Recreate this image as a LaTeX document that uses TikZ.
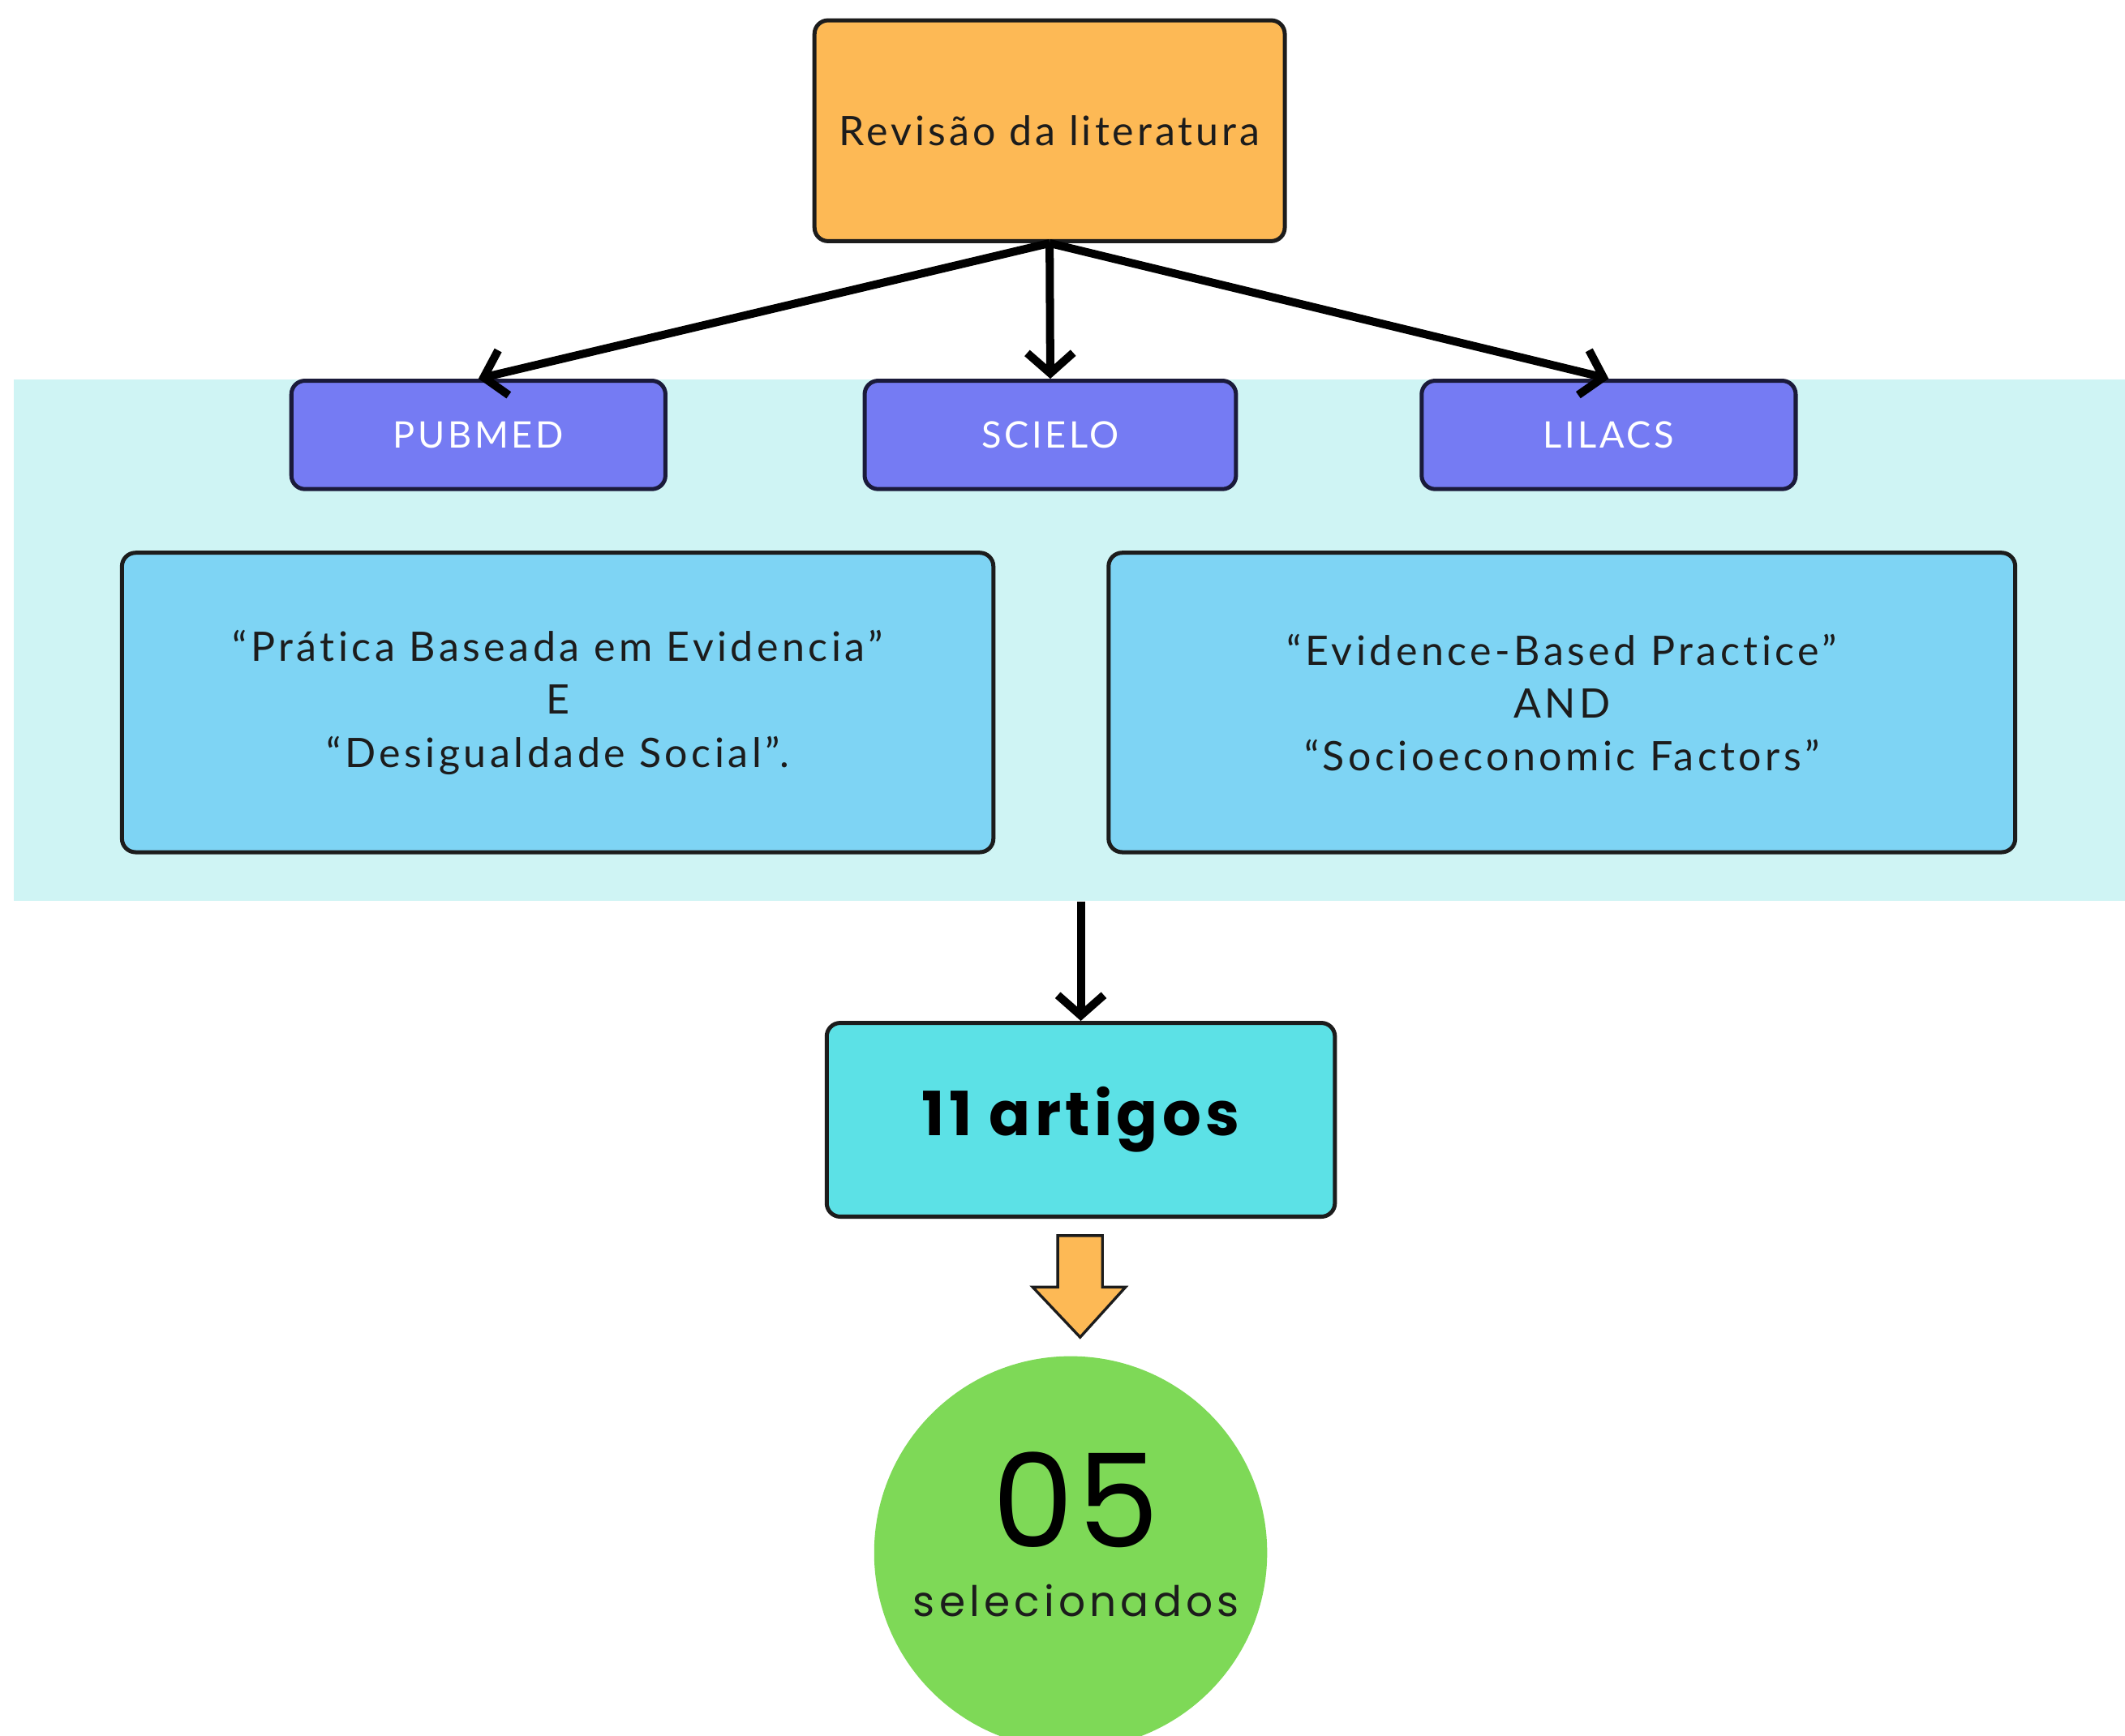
\documentclass[tikz,border=0pt]{standalone}
\usepackage{fontspec}
\setmainfont{Lato}[LetterSpace=8,Ligatures=NoCommon]
\newfontfamily\popfont{Poppins}[LetterSpace=3]
\newfontfamily\popsel{Poppins}[LetterSpace=10]
\newfontfamily\popbold{Poppins Bold}[LetterSpace=7]
\usetikzlibrary{arrows.meta,calc}
\definecolor{revorange}{HTML}{FDB955}
\definecolor{bandcyan}{HTML}{CFF4F4}
\definecolor{dbpurple}{HTML}{757BF3}
\definecolor{termblue}{HTML}{7ED4F4}
\definecolor{artcyan}{HTML}{5CE1E6}
\definecolor{selgreen}{HTML}{7ED957}
\definecolor{inkdark}{HTML}{1C1C1C}
\definecolor{navyline}{HTML}{1A1A3A}
\begin{document}
\begin{tikzpicture}[x=1pt,y=-1pt,
  boxbase/.style={rounded corners=10pt, line width=3pt, draw=inkdark, inner sep=0pt, align=center},
  revbox/.style={boxbase, fill=revorange, text=inkdark, font=\fontsize{30}{36}\selectfont},
  dbbox/.style={boxbase, draw=navyline, fill=dbpurple, text=white, font=\fontsize{27}{32}\selectfont},
  termbox/.style={boxbase, fill=termblue, text=inkdark, font=\addfontfeatures{LetterSpace=9}\fontsize{30}{39}\selectfont},
  artbox/.style={boxbase, fill=artcyan, text=black, font=\popbold\fontsize{45}{52}\selectfont},
  conn/.style={line width=6pt, draw=black, -{Straight Barb[length=15pt,width=34pt]}}
]
\useasboundingbox (0,0) rectangle (1568,1281);
\fill[white] (0,0) rectangle (1568,1281);

% background band
\node[fill=bandcyan, minimum width=1558pt, minimum height=385pt, inner sep=0pt] (band) at (789,472.5) {};

% nodes
\node[revbox, minimum width=347pt, minimum height=163pt] (rev) at (774.5,96.5) {Revisão da literatura};
\node[dbbox, minimum width=276pt, minimum height=80pt] (pub) at (353,321) {PUBMED};
\node[dbbox, minimum width=274pt, minimum height=80pt] (sci) at (775,321) {SCIELO};
\node[dbbox, minimum width=276pt, minimum height=80pt] (lil) at (1187,321) {LILACS};
\node[termbox, minimum width=643pt, minimum height=221pt] (ptterms) at (411.5,518.5)
  {“Prática Baseada em Evidencia”\\E\\“Desigualdade Social”.};
\node[termbox, minimum width=669pt, minimum height=221pt] (enterms) at (1152.5,518.5)
  {“Evidence-Based Practice”\\AND\\“Socioeconomic Factors”};
\node[artbox, minimum width=375pt, minimum height=143pt] (art) at (797.5,826.5) {11 artigos};
\node[circle, fill=selgreen, minimum size=290pt, inner sep=0pt] (sel) at (790,1146) {};
\node[font=\popfont\fontsize{96}{100}\selectfont, text=black, inner sep=0pt, anchor=base] (num) at (794,1142) {05};
\node[font=\popsel\fontsize{31}{34}\selectfont, text=inkdark, inner sep=0pt, anchor=base] (seltxt) at (794,1193) {selecionados};

% connectors
\draw[conn] (rev.south) -- (pub.north);
\draw[conn] (rev.south) -- (sci.north);
\draw[conn] (rev.south) -- (lil.north);
\coordinate (bandout) at (art.north |- band.south);
\draw[conn] (bandout) -- (art.north);

% block arrow between art and sel
\coordinate (ba) at (797,912);
\draw[fill=revorange, draw=inkdark, line width=2pt, line join=miter]
  ($(ba)+(-16.5,0)$) -- ++(33,0) -- ++(0,38) -- ++(17,0) -- (797,987) -- (762,950) -- ++(18.5,0) -- cycle;
\end{tikzpicture}
\end{document}
